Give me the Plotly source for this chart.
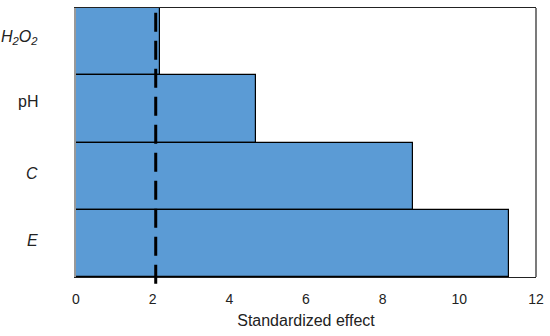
import plotly.graph_objects as go

categories = ["<i>H<sub>2</sub>O<sub>2</sub></i>", "pH", "<i>C</i>", "<i>E</i>"]
effects = [2.19, 4.70, 8.79, 11.30]
critical_value = 2.08
x_ticks = [0, 2, 4, 6, 8, 10, 12]

fig = go.Figure()
fig.add_trace(go.Bar(
    y=categories, x=effects, orientation="h",
    marker=dict(color="#5B9BD5", line=dict(color="#000000", width=1.2)),
    showlegend=False,
))

fig.add_shape(type="line", xref="x", yref="paper", x0=critical_value, x1=critical_value,
              y0=-0.025, y1=1, line=dict(color="#000000", width=3, dash="19px,9px"))
fig.add_shape(type="line", xref="paper", yref="paper", x0=1, x1=1, y0=0, y1=1,
              line=dict(color="#222222", width=1.2))

# category labels drawn as text next to the axis
label_lift = [4, 7, 3, 3]
for cat, lift in zip(categories, label_lift):
    fig.add_annotation(x=0, xref="paper", xanchor="right", xshift=-36,
                       y=cat, yref="y", yshift=lift, text=cat, showarrow=False,
                       font=dict(size=16, color="#222222"))

fig.update_layout(
    width=550, height=336,
    margin=dict(l=76, r=14, t=8, b=59, autoexpand=False),
    paper_bgcolor="white", plot_bgcolor="white",
    bargap=0,
    font=dict(family="Liberation Sans, Arial, sans-serif", size=14, color="#222222"),
    xaxis=dict(
        range=[0, 12], tickvals=x_ticks, showgrid=False, zeroline=False,
        showline=True, linecolor="#222222", linewidth=1.2, mirror=True,
        ticks="", ticklen=0, tickfont=dict(size=14), ticklabelstandoff=9,
        automargin=False,
        title=dict(text="Standardized effect", standoff=8, font=dict(size=16)),
    ),
    yaxis=dict(
        categoryorder="array", categoryarray=categories, autorange="reversed",
        showgrid=False, zeroline=False, showline=True, linecolor="#999999", linewidth=1.5,
        ticks="", showticklabels=False, automargin=False,
    ),
)

fig.write_html("out.html", config={"displayModeBar": False},
               post_script="document.body.style.margin='0';")
